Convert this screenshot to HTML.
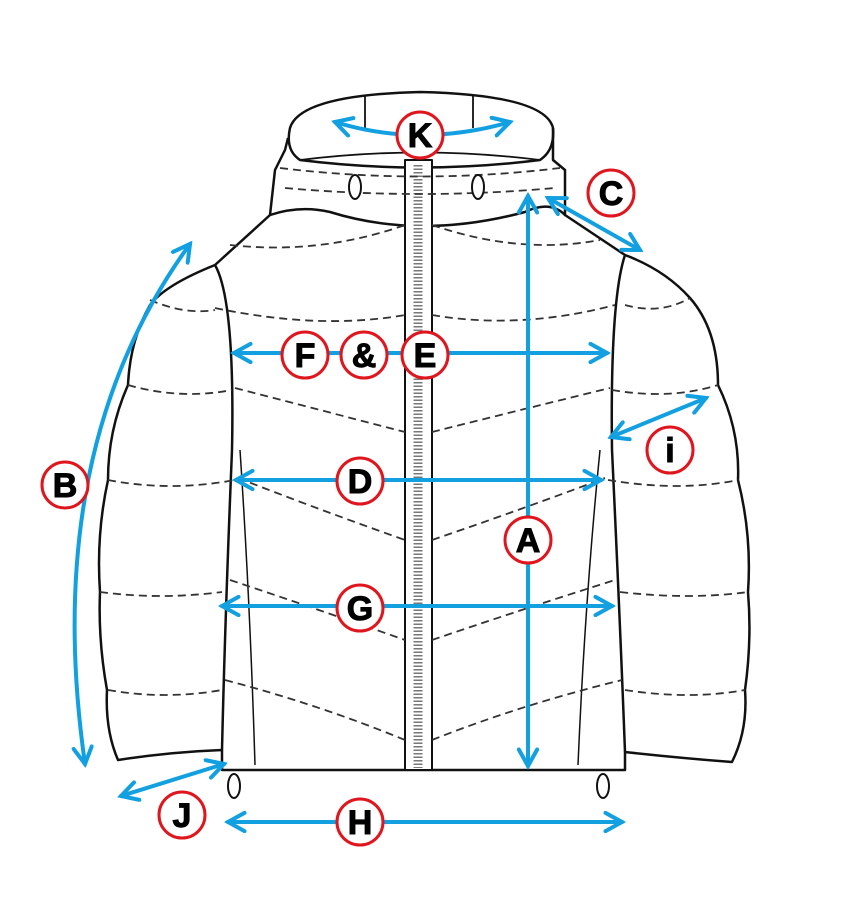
<!DOCTYPE html>
<html><head><style>
html,body{margin:0;padding:0;background:#fff;}
svg{display:block;}
text{font-family:"Liberation Sans",sans-serif;font-weight:bold;}
</style></head><body>
<svg width="848" height="900" viewBox="0 0 848 900" xmlns="http://www.w3.org/2000/svg">
<defs>
<marker id="ah" viewBox="0 0 12 12" refX="10" refY="6" markerWidth="5.5" markerHeight="5.5" orient="auto-start-reverse" markerUnits="strokeWidth">
<path d="M1,1 L10,6 L1,11" fill="none" stroke="#12a0e0" stroke-width="2.2" stroke-linecap="round"/>
</marker>
</defs>
<g fill="none" stroke="#111" stroke-width="2.5" stroke-linejoin="round">
<!-- hood -->
<path d="M290,128 Q300,95 420,92 Q545,95 553,128 Q555,150 540,160 Q420,175 300,160 Q285,150 290,128 Z" fill="#fff"/>
<path d="M300,160 Q420,145 540,160" stroke-width="1.8"/>
<path d="M288,138 L285,150 Q280,160 275,170 L270,215 Q300,205 330,212 Q420,240 525,212 Q550,200 565,215 L565,170 L553,160 L553,128"/>
<line x1="365" y1="96" x2="365" y2="128" stroke-width="1.8"/>
<line x1="473" y1="96" x2="473" y2="128" stroke-width="1.8"/>
<!-- body -->
<path d="M270,215 L215,265 Q165,285 150,305 Q130,340 128,385 Q108,430 108,480 Q96,535 100,592 Q98,640 107,690 Q105,730 118,760 Q170,752 222,750 L222,770 L625,770 L625,752 Q680,758 732,762 Q748,730 745,690 Q752,640 748,592 Q752,535 738,480 Q740,430 718,385 Q718,330 690,298 Q665,270 625,255 L565,215" fill="none"/>
<path d="M215,265 Q235,300 232,450 Q225,620 222,750"/>
<path d="M625,255 Q610,300 612,450 Q620,620 625,752"/>
<path d="M240,450 Q250,600 255,765" stroke-width="1.5"/>
<path d="M600,450 Q585,600 578,765" stroke-width="1.5"/>
<!-- zipper -->
<rect x="405" y="160" width="27" height="610" fill="#fff" stroke-width="2"/>
<line x1="418" y1="165" x2="418" y2="768" stroke="#777" stroke-width="9" stroke-dasharray="1.5 2"/>
</g>
<!-- quilting dashed -->
<g fill="none" stroke="#333" stroke-width="1.8" stroke-dasharray="8 5">
<path d="M285,188 Q420,200 555,188"/>
<path d="M280,168 Q420,185 560,168"/>
<path d="M230,245 Q320,255 405,225"/><path d="M432,225 Q520,255 600,240"/>
<path d="M215,308 Q320,330 405,315"/><path d="M432,315 Q520,330 615,305"/>
<path d="M235,388 Q320,410 405,432"/><path d="M432,432 Q520,410 610,388"/>
<path d="M238,478 Q320,510 405,540"/><path d="M432,540 Q520,510 605,478"/>
<path d="M230,580 Q320,610 405,640"/><path d="M432,640 Q520,610 615,580"/>
<path d="M225,680 Q320,705 405,740"/><path d="M432,740 Q520,705 622,680"/>
<path d="M150,300 Q185,315 215,310"/><path d="M625,305 Q660,315 690,298"/>
<path d="M128,385 Q180,400 232,390"/><path d="M612,390 Q670,400 718,385"/>
<path d="M108,480 Q170,492 235,480"/><path d="M608,480 Q680,492 738,480"/>
<path d="M100,592 Q160,600 222,592"/><path d="M620,592 Q690,600 748,592"/>
<path d="M108,690 Q165,700 222,690"/><path d="M625,690 Q690,700 745,690"/>
</g>
<!-- toggles -->
<g fill="#fff" stroke="#111" stroke-width="2">
<ellipse cx="355" cy="187" rx="6" ry="12"/><ellipse cx="478" cy="187" rx="6" ry="12"/>
<ellipse cx="234" cy="786" rx="6" ry="12"/><ellipse cx="603" cy="786" rx="6" ry="12"/>
</g>
<!-- arrows -->
<g fill="none" stroke="#12a0e0" stroke-width="4" stroke-linecap="round" marker-start="url(#ah)" marker-end="url(#ah)">
<path d="M335,122 Q420,148 510,122"/>
<line x1="548" y1="198" x2="640" y2="250"/>
<line x1="528" y1="196" x2="528" y2="766"/>
<line x1="234" y1="353" x2="607" y2="353"/>
<line x1="611" y1="437" x2="706" y2="398"/>
<line x1="236" y1="480" x2="601" y2="480"/>
<path d="M190,244 Q40,450 85,764"/>
<line x1="222" y1="606" x2="612" y2="606"/>
<line x1="121" y1="796" x2="224" y2="764"/>
<line x1="228" y1="822" x2="622" y2="822"/>
</g>
<!-- labels -->
<g fill="#fff" stroke="#e0161e" stroke-width="3">
<circle cx="420" cy="135" r="23"/><circle cx="611" cy="193" r="23"/>
<circle cx="305" cy="355" r="23"/><circle cx="364" cy="355" r="23"/><circle cx="425" cy="355" r="23"/>
<circle cx="670" cy="450" r="23"/><circle cx="360" cy="481" r="23"/><circle cx="65" cy="485" r="23"/>
<circle cx="528" cy="540" r="23"/><circle cx="360" cy="608" r="23"/>
<circle cx="182" cy="815" r="23"/><circle cx="360" cy="822" r="23"/>
</g>
<g font-size="34" text-anchor="middle" fill="#000" stroke="#000" stroke-width="1">
<text x="420" y="147">K</text><text x="611" y="205">C</text>
<text x="305" y="367">F</text><text x="364" y="367">&amp;</text><text x="425" y="367">E</text>
<text x="670" y="462">i</text><text x="360" y="493">D</text><text x="65" y="497">B</text>
<text x="528" y="552">A</text><text x="360" y="620">G</text>
<text x="182" y="827">J</text><text x="360" y="834">H</text>
</g>
</svg>
</body></html>
